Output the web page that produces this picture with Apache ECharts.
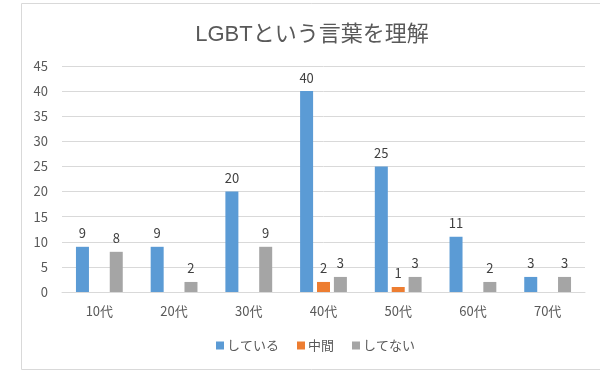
<!DOCTYPE html>
<html><head><meta charset="utf-8">
<script src="https://cdn.jsdelivr.net/npm/echarts@6/dist/echarts.min.js"></script>
<style>html,body{margin:0;padding:0;background:#fff}#c{width:600px;height:385px}</style>
</head><body><div id="c"></div>
<script>
var categories = ['10代','20代','30代','40代','50代','60代','70代'];
var seriesNames = ['している','中間','してない'];
var doing = [9, 9, 20, 40, 25, 11, 3];
var middle = [null, null, null, 2, 1, null, null];
var notDoing = [8, 2, 9, 3, 3, 2, 3];
var yTicks = [0,5,10,15,20,25,30,35,40,45];

var font = '"Noto Sans CJK JP", "Open Sans", sans-serif';
var titleFont = '"Liberation Sans", "Noto Sans CJK JP", sans-serif';
var colors = ['#5B9BD5','#ED7D31','#A5A5A5'];
var chart = echarts.init(document.getElementById('c'));
function ser(name, data, color){
  return {name:name, type:'bar', data:data, barWidth:13, barGap:'30%',
    itemStyle:{color:color},
    label:{show:true, position:'top', distance:7, color:'#404040', fontSize:13, fontFamily:font}};
}
chart.setOption({
  animation:false,
  graphic:[{type:'rect', shape:{x:21.5,y:3.5,width:620,height:366}, style:{fill:null, stroke:'#d9d9d9', lineWidth:1}, silent:true}],
  title:{text:'LGBTという言葉を理解', left:307, top:19, textAlign:'center',
    textStyle:{fontFamily:titleFont, fontSize:22, fontWeight:'normal', color:'#595959'}},
  legend:{data:seriesNames, bottom:28, left:211, itemWidth:8, itemHeight:8, itemGap:18,
    icon:'rect', textStyle:{fontFamily:font, fontSize:13, color:'#595959', padding:[0,0,0,-2]}},
  grid:{left:62, right:15, top:66, bottom:93, containLabel:false},
  xAxis:{type:'category', data:categories, axisTick:{show:false},
    axisLine:{lineStyle:{color:'#d9d9d9'}},
    axisLabel:{color:'#595959', fontSize:13, fontFamily:font, margin:13}},
  yAxis:{type:'value', min:yTicks[0], max:yTicks[yTicks.length-1], interval:yTicks[1]-yTicks[0],
    axisLine:{show:false}, axisTick:{show:false},
    splitLine:{lineStyle:{color:'#d9d9d9'}},
    axisLabel:{color:'#595959', fontSize:13, fontFamily:font, margin:14}},
  series:[ser(seriesNames[0], doing, colors[0]), ser(seriesNames[1], middle, colors[1]), ser(seriesNames[2], notDoing, colors[2])]
});
</script></body></html>
